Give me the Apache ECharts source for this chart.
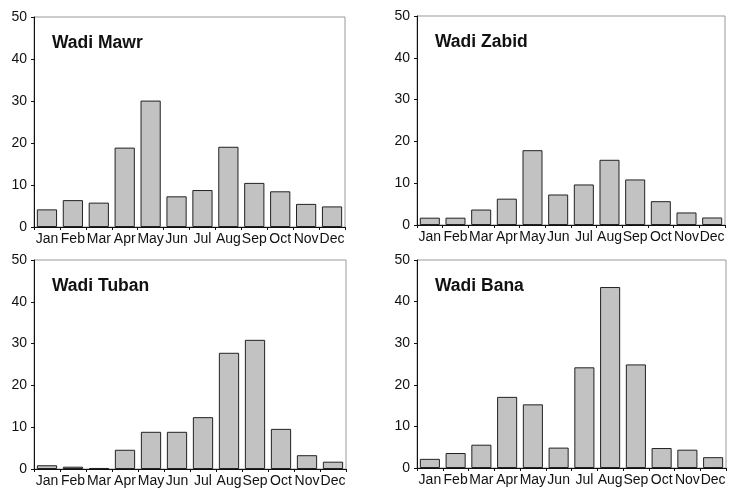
<!DOCTYPE html>
<html><head><meta charset="utf-8">
<script src="https://cdn.jsdelivr.net/npm/echarts@6/dist/echarts.min.js"></script>
<style>html,body{margin:0;padding:0;background:#fff}#c{width:729px;height:490px}</style>
</head><body><div id="c"></div>
<script>
const months = ['Jan','Feb','Mar','Apr','May','Jun','Jul','Aug','Sep','Oct','Nov','Dec'];
const yTicks = [0,10,20,30,40,50];
const titles = ['Wadi Mawr','Wadi Zabid','Wadi Tuban','Wadi Bana'];
const mawr  = [4.2, 6.4, 5.8, 18.9, 30.1, 7.3, 8.8, 19.1, 10.5, 8.5, 5.5, 4.9];
const zabid = [1.75, 1.75, 3.7, 6.3, 17.9, 7.3, 9.7, 15.6, 10.9, 5.7, 3.0, 1.8];
const tuban = [0.9, 0.55, 0.25, 4.6, 8.9, 8.9, 12.4, 27.8, 30.9, 9.6, 3.3, 1.75];
const bana  = [2.2, 3.6, 5.6, 17.1, 15.3, 4.9, 24.2, 43.5, 24.9, 4.8, 4.4, 2.6];
const seriesData = [mawr, zabid, tuban, bana];

const grids = [
  {left:34, top:17, width:311, height:210},
  {left:417, top:16, width:308, height:209},
  {left:34, top:260, width:312, height:209},
  {left:417, top:260, width:309, height:208}
];
const font = 'Liberation Sans, Arial, sans-serif';
const option = {
  animation:false,
  grid: grids.map(g => Object.assign({show:true, borderColor:'#999', borderWidth:1, containLabel:false}, g)),
  title: titles.map((t,i) => ({
    text:t, left:grids[i].left+18, top:grids[i].top+17, padding:0,
    textStyle:{fontFamily:font, fontSize:17.5, fontWeight:'bold', color:'#111'}
  })),
  xAxis: grids.map((g,i) => ({
    type:'category', gridIndex:i, data:months,
    axisLine:{lineStyle:{color:'#111', width:1}},
    axisTick:{show:true, length:3, lineStyle:{color:'#111'}},
    axisLabel:{interval:0, color:'#111', fontFamily:font, fontSize:14, margin:5}
  })),
  yAxis: grids.map((g,i) => ({
    type:'value', gridIndex:i, min:yTicks[0], max:yTicks[yTicks.length-1], interval:10,
    axisLine:{show:true, lineStyle:{color:'#111', width:1}},
    axisTick:{show:true, length:3, lineStyle:{color:'#111'}},
    splitLine:{show:false},
    axisLabel:{color:'#111', fontFamily:font, fontSize:14, margin:7}
  })),
  series: seriesData.map((d,i) => ({
    type:'bar', xAxisIndex:i, yAxisIndex:i, data:d, barCategoryGap:'22%',
    itemStyle:{color:'#c2c2c2', borderColor:'#222', borderWidth:1}
  }))
};
echarts.init(document.getElementById('c')).setOption(option);
</script></body></html>
